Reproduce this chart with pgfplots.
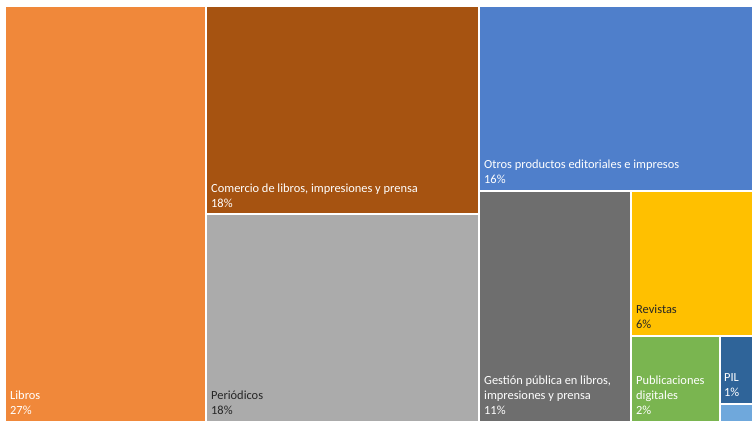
\documentclass[border=0pt]{standalone}
\usepackage{pgfplots}
\pgfplotsset{compat=1.18}
\usepackage{fontspec}
\setmainfont{Carlito}
\definecolor{cLibros}{HTML}{F0883A}
\definecolor{cComercio}{HTML}{A65311}
\definecolor{cPeriod}{HTML}{ABABAB}
\definecolor{cOtros}{HTML}{4F7FCB}
\definecolor{cGestion}{HTML}{6E6E6E}
\definecolor{cRevistas}{HTML}{FFC000}
\definecolor{cPub}{HTML}{7AB550}
\definecolor{cPIL}{HTML}{2F6499}
\definecolor{cLight}{HTML}{6FA8DC}
\definecolor{cDark}{HTML}{262626}
\begin{document}
\begin{tikzpicture}[lab/.style={anchor=base west, inner sep=0pt, font=\fontsize{12.4pt}{14.9pt}\selectfont}]
\begin{axis}[
  width=752pt, height=423pt, scale only axis,
  xmin=0, xmax=752, ymin=0, ymax=423, y dir=reverse,
  hide axis, enlargelimits=false, clip=false]
\path (axis cs:0,0) rectangle (axis cs:752,423);
\addplot[fill=cLibros, draw=none, mark=none] coordinates {(6,7) (205,7) (205,421) (6,421)} -- cycle;
\addplot[fill=cComercio, draw=none, mark=none] coordinates {(207,7) (478,7) (478,213) (207,213)} -- cycle;
\addplot[fill=cPeriod, draw=none, mark=none] coordinates {(207,215) (478,215) (478,421) (207,421)} -- cycle;
\addplot[fill=cOtros, draw=none, mark=none] coordinates {(480,7) (752,7) (752,190) (480,190)} -- cycle;
\addplot[fill=cGestion, draw=none, mark=none] coordinates {(480,192) (630,192) (630,421) (480,421)} -- cycle;
\addplot[fill=cRevistas, draw=none, mark=none] coordinates {(632,192) (752,192) (752,335) (632,335)} -- cycle;
\addplot[fill=cPub, draw=none, mark=none] coordinates {(632,337) (719,337) (719,421) (632,421)} -- cycle;
\addplot[fill=cPIL, draw=none, mark=none] coordinates {(721,337) (752,337) (752,403) (721,403)} -- cycle;
\addplot[fill=cLight, draw=none, mark=none] coordinates {(721,405) (752,405) (752,421) (721,421)} -- cycle;

\node[lab, white] at (axis cs:10,399) {Libros};
\node[lab, white] at (axis cs:10,414) {27\%};
\node[lab, white] at (axis cs:211,192) {Comercio de libros, impresiones y prensa};
\node[lab, white] at (axis cs:211,207) {18\%};
\node[lab, cDark] at (axis cs:211,399) {Periódicos};
\node[lab, cDark] at (axis cs:211,414) {18\%};
\node[lab, white] at (axis cs:484,168) {Otros productos editoriales e impresos};
\node[lab, white] at (axis cs:484,183) {16\%};
\node[lab, white] at (axis cs:484,384) {Gestión pública en libros,};
\node[lab, white] at (axis cs:484,399) {impresiones y prensa};
\node[lab, white] at (axis cs:484,414) {11\%};
\node[lab, cDark] at (axis cs:636,313) {Revistas};
\node[lab, cDark] at (axis cs:636,328) {6\%};
\node[lab, white] at (axis cs:636,384) {Publicaciones};
\node[lab, white] at (axis cs:636,399) {digitales};
\node[lab, white] at (axis cs:636,414) {2\%};
\node[lab, white] at (axis cs:724,381) {PIL};
\node[lab, white] at (axis cs:724,396) {1\%};
\end{axis}
\end{tikzpicture}
\end{document}
